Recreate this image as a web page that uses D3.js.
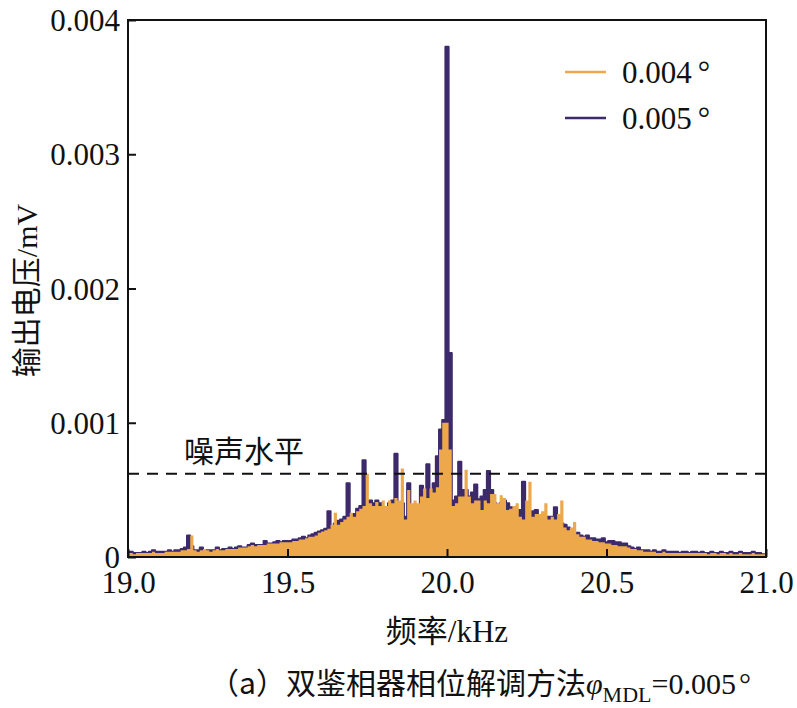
<!DOCTYPE html>
<html>
<head>
<meta charset="utf-8">
<script src="https://cdn.jsdelivr.net/npm/d3@7"></script>
<style>
  body { margin: 0; background: #fff; }
  text { font-family: "Liberation Serif", "Noto Sans CJK SC", serif; fill: #111; }
  .cjk { font-family: "Noto Sans CJK SC", sans-serif; }
</style>
</head>
<body>
<svg id="chart" width="797" height="708"></svg>
<script>
// spectrum sampled every 0.01 kHz from 19.00 to 21.00 kHz
const fStart = 19.0;
const fStep = 0.01;

// output voltage, units of 1e-3 mV
const phase004 = [
  0.03,0.03,0.02,0.03,0.03,0.03,0.03,0.03,0.04,0.03,
  0.03,0.03,0.04,0.04,0.04,0.04,0.04,0.05,0.05,0.06,
  0.16,0.05,0.04,0.05,0.06,0.05,0.04,0.05,0.06,0.05,
  0.05,0.06,0.06,0.06,0.06,0.07,0.07,0.07,0.08,0.09,
  0.08,0.09,0.09,0.09,0.10,0.10,0.10,0.10,0.11,0.11,
  0.11,0.11,0.12,0.12,0.13,0.13,0.14,0.15,0.15,0.16,
  0.18,0.19,0.20,0.21,0.24,0.33,0.24,0.26,0.28,0.30,
  0.33,0.30,0.34,0.36,0.38,0.62,0.40,0.38,0.41,0.38,
  0.42,0.38,0.42,0.40,0.44,0.42,0.66,0.28,0.50,0.40,
  0.42,0.40,0.45,0.51,0.44,0.51,0.48,0.52,0.80,1.00,
  1.00,0.80,0.38,0.40,0.45,0.45,0.65,0.45,0.40,0.42,
  0.42,0.35,0.42,0.40,0.47,0.47,0.40,0.46,0.44,0.35,
  0.36,0.38,0.40,0.30,0.28,0.42,0.56,0.30,0.32,0.32,
  0.34,0.40,0.28,0.30,0.28,0.32,0.42,0.22,0.20,0.22,
  0.26,0.17,0.15,0.15,0.13,0.13,0.12,0.12,0.11,0.11,
  0.10,0.10,0.09,0.09,0.08,0.08,0.08,0.07,0.06,0.06,
  0.05,0.05,0.04,0.04,0.04,0.04,0.03,0.03,0.04,0.03,
  0.03,0.03,0.03,0.03,0.03,0.03,0.03,0.03,0.03,0.03,
  0.03,0.03,0.02,0.03,0.03,0.02,0.03,0.03,0.02,0.03,
  0.02,0.02,0.03,0.02,0.02,0.02,0.03,0.02,0.02,0.02,0.02
];

const phase005 = [
  0.04,0.04,0.03,0.03,0.03,0.04,0.03,0.04,0.05,0.04,
  0.04,0.04,0.04,0.05,0.04,0.05,0.05,0.06,0.07,0.16,
  0.08,0.05,0.05,0.07,0.05,0.05,0.05,0.05,0.07,0.05,
  0.06,0.06,0.07,0.06,0.07,0.08,0.07,0.07,0.09,0.10,
  0.09,0.09,0.09,0.12,0.10,0.10,0.11,0.12,0.11,0.12,
  0.12,0.12,0.13,0.13,0.14,0.15,0.14,0.16,0.17,0.18,
  0.19,0.20,0.21,0.34,0.22,0.25,0.27,0.28,0.30,0.55,
  0.30,0.32,0.36,0.38,0.72,0.40,0.42,0.40,0.42,0.40,
  0.36,0.34,0.40,0.42,0.77,0.38,0.40,0.30,0.55,0.34,
  0.38,0.36,0.53,0.40,0.69,0.50,0.55,0.75,0.95,1.02,
  3.80,1.52,0.42,0.45,0.71,0.50,0.50,0.45,0.48,0.54,
  0.43,0.45,0.50,0.64,0.50,0.40,0.38,0.40,0.42,0.40,
  0.37,0.36,0.30,0.35,0.56,0.30,0.30,0.34,0.35,0.28,
  0.30,0.28,0.30,0.30,0.37,0.30,0.25,0.24,0.22,0.20,
  0.18,0.18,0.16,0.15,0.16,0.14,0.14,0.13,0.13,0.14,
  0.11,0.12,0.12,0.11,0.11,0.10,0.10,0.08,0.07,0.06,
  0.07,0.05,0.05,0.05,0.04,0.05,0.04,0.04,0.05,0.04,
  0.04,0.04,0.04,0.03,0.04,0.04,0.03,0.04,0.04,0.03,
  0.04,0.03,0.03,0.04,0.03,0.03,0.04,0.03,0.03,0.04,
  0.03,0.03,0.04,0.03,0.03,0.03,0.04,0.03,0.03,0.02,0.02
];

const noiseLevel = 0.62;
const xTicks = [19.0, 19.5, 20.0, 20.5, 21.0];
const yTicks = [0, 1, 2, 3, 4];
const yTickLabels = ['0', '0.001', '0.002', '0.003', '0.004'];
const seriesNames = ['0.004', '0.005'];
const colors = ['#eca84a', '#3c2a6b'];

const svg = d3.select('#chart');
const m = { left: 128, right: 766, top: 20, bottom: 557 };

const x = d3.scaleLinear().domain([19, 21]).range([m.left, m.right]);
const y = d3.scaleLinear().domain([0, 4]).range([m.bottom, m.top]);

svg.append('clipPath').attr('id', 'plot')
  .append('rect')
  .attr('x', m.left).attr('y', m.top)
  .attr('width', m.right - m.left).attr('height', m.bottom - m.top);

const g = svg.append('g').attr('clip-path', 'url(#plot)');

const freq = i => fStart + i * fStep;
const area = d3.area()
  .curve(d3.curveStep)
  .x((d, i) => x(freq(i)))
  .y0(y(0))
  .y1(d => y(d));

// 0.005 first, 0.004 painted over it
g.append('path').datum(phase005)
  .attr('d', area)
  .attr('fill', colors[1])
  .attr('stroke', colors[1])
  .attr('stroke-width', 2)
  .attr('stroke-linejoin', 'round');

g.append('path').datum(phase004)
  .attr('d', area)
  .attr('fill', colors[0]);

// noise level
svg.append('line')
  .attr('x1', m.left).attr('x2', m.right)
  .attr('y1', y(noiseLevel)).attr('y2', y(noiseLevel))
  .attr('stroke', '#111').attr('stroke-width', 2)
  .attr('stroke-dasharray', '11,8');

svg.append('text').attr('class', 'cjk')
  .attr('x', 184).attr('y', 462)
  .attr('font-size', 30)
  .text('噪声水平');

// axes, ticks inward
const xAxis = d3.axisBottom(x).tickValues(xTicks).tickSizeInner(-8).tickSizeOuter(0)
  .tickPadding(17).tickFormat(d3.format('.1f'));
const yAxis = d3.axisLeft(y).tickValues(yTicks).tickSizeInner(-8).tickSizeOuter(0)
  .tickPadding(8).tickFormat((d, i) => yTickLabels[i]);

const gx = svg.append('g').attr('transform', `translate(0,${m.bottom})`).call(xAxis);
const gy = svg.append('g').attr('transform', `translate(${m.left},0)`).call(yAxis);

[gx, gy].forEach(a => {
  a.select('.domain').remove();
  a.selectAll('.tick line').attr('stroke', '#111').attr('stroke-width', 2);
  a.selectAll('.tick text').attr('font-size', 31).attr('fill', '#111')
    .style('font-family', '"Liberation Serif", serif');
});
gx.selectAll('.tick text').attr('dy', '0.62em');
gy.selectAll('.tick text').attr('dy', '0.34em');

// frame
svg.append('rect')
  .attr('x', m.left).attr('y', m.top)
  .attr('width', m.right - m.left).attr('height', m.bottom - m.top)
  .attr('fill', 'none').attr('stroke', '#111').attr('stroke-width', 2);

// axis titles
svg.append('text')
  .attr('transform', `translate(37,${(m.top + m.bottom) / 2 + 2}) rotate(-90)`)
  .attr('text-anchor', 'middle')
  .attr('font-size', 30)
  .html('<tspan class="cjk">输出电压</tspan>/mV');

svg.append('text')
  .attr('x', x(20)).attr('y', 642)
  .attr('text-anchor', 'middle')
  .attr('font-size', 31)
  .html('<tspan class="cjk">频率</tspan>/kHz');

svg.append('text')
  .attr('x', 480).attr('y', 694)
  .attr('text-anchor', 'middle')
  .attr('font-size', 30)
  .html('<tspan class="cjk">（a）双鉴相器相位解调方法</tspan><tspan font-style="italic">φ</tspan><tspan font-size="22" dy="8">MDL</tspan><tspan dy="-8">=0.005</tspan><tspan dx="3">°</tspan>');

// legend
const legend = svg.append('g');
seriesNames.forEach((name, i) => {
  const ly = 72 + i * 46;
  legend.append('line')
    .attr('x1', 565).attr('x2', 606).attr('y1', ly).attr('y2', ly)
    .attr('stroke', colors[i]).attr('stroke-width', 2.5);
  legend.append('text')
    .attr('x', 622).attr('y', ly + 11)
    .attr('font-size', 31)
    .html(`${name}<tspan dx="6">°</tspan>`);
});
</script>
</body>
</html>
